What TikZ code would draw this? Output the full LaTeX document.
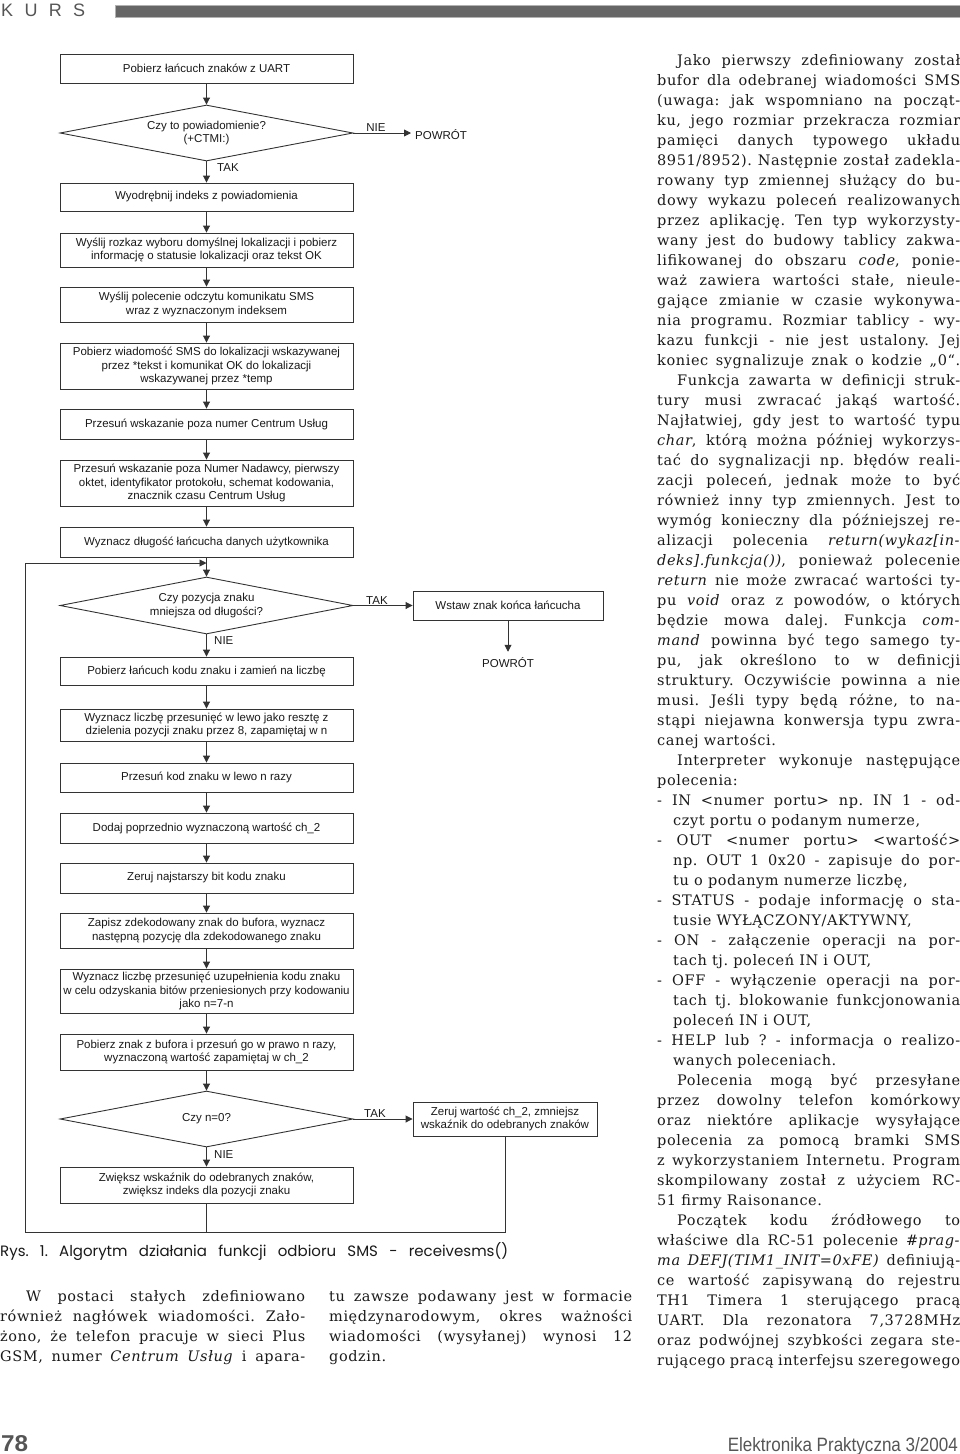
\documentclass[tikz,border=0pt]{standalone}
\usepackage{fontspec}
\usepackage{graphicx}
\setmainfont{DejaVu Serif}[LetterSpace=4]
\newfontfamily\flowfont{Liberation Sans}
\newfontfamily\capfont{Poppins}
\usetikzlibrary{shapes.geometric,arrows.meta}
\frenchspacing
\definecolor{ln}{HTML}{333333}
\definecolor{txt}{HTML}{1A1A1A}
\definecolor{hdr}{HTML}{666666}
\definecolor{hdrtxt}{HTML}{555555}
\newcommand\RJ[3]{\node[bl] (r#1) at (657,#2) {\makebox[303pt][s]{#3}};}
\newcommand\RL[3]{\node[bl] (r#1) at (657,#2) {#3};}
\newcommand\HJ[3]{\node[bl] (r#1) at (673,#2) {\makebox[287pt][s]{#3}};}
\newcommand\HL[3]{\node[bl] (r#1) at (673,#2) {#3};}
\newcommand\ind{\hspace*{20pt}}
\tikzset{
  fbox/.style={draw=ln, line width=0.9pt, minimum width=293pt, inner sep=0pt, align=center,
    font=\flowfont\fontsize{11.5}{13.5}\selectfont, text=txt},
  fdia/.style={fbox, shape=diamond, aspect=5, minimum height=56pt},
  lab/.style={font=\flowfont\fontsize{11.5}{12}\selectfont, inner sep=0pt, text=txt},
  arr/.style={-{Triangle[length=7pt,width=7pt]}, line width=0.9pt, draw=ln},
  con/.style={line width=0.9pt, draw=ln},
  bl/.style={anchor=base west, inner sep=0pt, font=\fontsize{14.5}{20}\selectfont, text=txt}
}
\begin{document}
\begin{tikzpicture}[x=1pt,y=-1pt]
\fill[white] (0,0) rectangle (960,1454);
\useasboundingbox (0,0) rectangle (960,1454);
% header
\node[anchor=base west, inner sep=0pt, text=hdrtxt, font=\flowfont\fontsize{18}{18}\selectfont] (kurs) at (1,16) {\makebox[84pt][s]{K U R S}};
\fill[hdr, draw=gray!60, line width=0.6pt] (115,5) rectangle (960,17);

% flowchart
\node[fbox, minimum height=29pt] (b1) at (206.5,68.5) {Pobierz łańcuch znaków z UART};
\node[fdia] (d1) at (206.5,133) {Czy to powiadomienie?\\(+CTMI:)};
\node[lab, anchor=west, inner xsep=4pt] (p1) at (411,134.5) {POWRÓT};
\node[lab, anchor=base] (n1) at (376,131) {NIE};
\node[lab, anchor=west] (t1) at (217,168) {TAK};
\node[fbox, minimum height=28pt] (b2) at (206.5,197) {Wyodrębnij indeks z powiadomienia};
\node[fbox, minimum height=34pt] (b3) at (206.5,250) {Wyślij rozkaz wyboru domyślnej lokalizacji i pobierz\\informację o statusie lokalizacji oraz tekst OK};
\node[fbox, minimum height=35pt] (b4) at (206.5,304.5) {Wyślij polecenie odczytu komunikatu SMS\\wraz z wyznaczonym indeksem};
\node[fbox, minimum height=46pt] (b5) at (206.5,366) {Pobierz wiadomość SMS do lokalizacji wskazywanej\\przez *tekst i komunikat OK do lokalizacji\\wskazywanej przez *temp};
\node[fbox, minimum height=30pt] (b6) at (206.5,424) {Przesuń wskazanie poza numer Centrum Usług};
\node[fbox, minimum height=46pt] (b7) at (206.5,483) {Przesuń wskazanie poza Numer Nadawcy, pierwszy\\oktet, identyfikator protokołu, schemat kodowania,\\znacznik czasu Centrum Usług};
\node[fbox, minimum height=30pt] (b8) at (206.5,542) {Wyznacz długość łańcucha danych użytkownika};
\node[fdia, minimum height=57pt] (d2) at (206.5,605.5) {Czy pozycja znaku\\mniejsza od długości?};
\node[fbox, minimum width=190pt, minimum height=29pt] (w) at (508,605.5) {Wstaw znak końca łańcucha};
\node[lab] (p2) at (508,663) {POWRÓT};
\node[lab, anchor=base] (t2) at (377,604) {TAK};
\node[lab, anchor=west] (n2) at (214,641) {NIE};
\node[fbox, minimum height=28pt] (b9) at (206.5,671) {Pobierz łańcuch kodu znaku i zamień na liczbę};
\node[fbox, minimum height=32pt] (b10) at (206.5,725) {Wyznacz liczbę przesunięć w lewo jako resztę z\\dzielenia pozycji znaku przez 8, zapamiętaj w n};
\node[fbox, minimum height=29pt] (b11) at (206.5,777.5) {Przesuń kod znaku w lewo n razy};
\node[fbox, minimum height=30pt] (b12) at (206.5,828) {Dodaj poprzednio wyznaczoną wartość ch\_2};
\node[fbox, minimum height=30pt] (b13) at (206.5,878) {Zeruj najstarszy bit kodu znaku};
\node[fbox, minimum height=35pt] (b14) at (206.5,930.5) {Zapisz zdekodowany znak do bufora, wyznacz\\następną pozycję dla zdekodowanego znaku};
\node[fbox, minimum height=44pt] (b15) at (206.5,991) {Wyznacz liczbę przesunięć uzupełnienia kodu znaku\\w celu odzyskania bitów przeniesionych przy kodowaniu\\jako n=7-n};
\node[fbox, minimum height=36pt] (b16) at (206.5,1052) {Pobierz znak z bufora i przesuń go w prawo n razy,\\wyznaczoną wartość zapamiętaj w ch\_2};
\node[fdia] (d3) at (206.5,1119) {Czy n=0?};
\node[fbox, minimum width=184pt, minimum height=34pt] (z) at (505,1119) {Zeruj wartość ch\_2, zmniejsz\\wskaźnik do odebranych znaków};
\node[lab, anchor=base] (t3) at (375,1117) {TAK};
\node[lab, anchor=west] (n3) at (214,1155) {NIE};
\node[fbox, minimum height=36pt] (b17) at (206.5,1185) {Zwiększ wskaźnik do odebranych znaków,\\zwiększ indeks dla pozycji znaku};

\coordinate (lb) at (25,1232);
\coordinate (lt) at (25,563);
\coordinate (j) at (206.5,563);

\draw[arr] (b1) -- (d1);
\draw[arr] (d1.east) -- (d1.east -| p1.west);
\draw[arr] (d1) -- (b2);
\draw[arr] (b2) -- (b3);
\draw[arr] (b3) -- (b4);
\draw[arr] (b4) -- (b5);
\draw[arr] (b5) -- (b6);
\draw[arr] (b6) -- (b7);
\draw[arr] (b7) -- (b8);
\draw[arr] (b8) -- (d2);
\draw[arr] (d2.east) -- (d2.east -| w.west);
\draw[arr, shorten >=6pt] (w.south) -- (p2.north);
\draw[arr] (d2) -- (b9);
\draw[arr] (b9) -- (b10);
\draw[arr] (b10) -- (b11);
\draw[arr] (b11) -- (b12);
\draw[arr] (b12) -- (b13);
\draw[arr] (b13) -- (b14);
\draw[arr] (b14) -- (b15);
\draw[arr] (b15) -- (b16);
\draw[arr] (b16) -- (d3);
\draw[arr] (d3.east) -- (d3.east -| z.west);
\draw[arr] (d3) -- (b17);
\draw[con] (z.south) -- (z.south |- lb) -- (lb) -- (lt);
\draw[arr] (lt) -- (j);
\draw[con] (b17.south) -- (b17.south |- lb);

% caption
\node[anchor=base west, inner sep=0pt, font=\capfont\fontsize{15}{16}\selectfont, text=txt] (cap) at (0,1256) {\makebox[508pt][s]{Rys. 1. Algorytm działania funkcji odbioru SMS - receivesms()}};

% bottom text columns
\node[bl] (a1) at (0,1301) {\makebox[305pt][s]{\hspace*{26pt}W postaci stałych zdefiniowano}};
\node[bl] (a2) at (0,1321) {\makebox[305pt][s]{również nagłówek wiadomości. Zało-}};
\node[bl] (a3) at (0,1341) {\makebox[305pt][s]{żono, że telefon pracuje w sieci Plus}};
\node[bl] (a4) at (0,1361) {\makebox[305pt][s]{GSM, numer \textit{Centrum Usług} i apara-}};
\node[bl] (c1) at (329,1301) {\makebox[303pt][s]{tu zawsze podawany jest w formacie}};
\node[bl] (c2) at (329,1321) {\makebox[303pt][s]{międzynarodowym, okres ważności}};
\node[bl] (c3) at (329,1341) {\makebox[303pt][s]{wiadomości (wysyłanej) wynosi 12}};
\node[bl] (c4) at (329,1361) {godzin.};

% right column
\RJ{1}{65}{\ind Jako pierwszy zdefiniowany został}
\RJ{2}{85}{bufor dla odebranej wiadomości SMS}
\RJ{3}{105}{(uwaga: jak wspomniano na począt-}
\RJ{4}{125}{ku, jego rozmiar przekracza rozmiar}
\RJ{5}{145}{pamięci danych typowego układu}
\RJ{6}{165}{8951/8952). Następnie został zadekla-}
\RJ{7}{185}{rowany typ zmiennej służący do bu-}
\RJ{8}{205}{dowy wykazu poleceń realizowanych}
\RJ{9}{225}{przez aplikację. Ten typ wykorzysty-}
\RJ{10}{245}{wany jest do budowy tablicy zakwa-}
\RJ{11}{265}{lifikowanej do obszaru \textit{code}, ponie-}
\RJ{12}{285}{waż zawiera wartości stałe, nieule-}
\RJ{13}{305}{gające zmianie w czasie wykonywa-}
\RJ{14}{325}{nia programu. Rozmiar tablicy - wy-}
\RJ{15}{345}{kazu funkcji - nie jest ustalony. Jej}
\RJ{16}{365}{koniec sygnalizuje znak o kodzie „0“.}
\RJ{17}{385}{\ind Funkcja zawarta w definicji struk-}
\RJ{18}{405}{tury musi zwracać jakąś wartość.}
\RJ{19}{425}{Najłatwiej, gdy jest to wartość typu}
\RJ{20}{445}{\textit{char}, którą można później wykorzys-}
\RJ{21}{465}{tać do sygnalizacji np. błędów reali-}
\RJ{22}{485}{zacji poleceń, jednak może to być}
\RJ{23}{505}{również inny typ zmiennych. Jest to}
\RJ{24}{525}{wymóg konieczny dla późniejszej re-}
\RJ{25}{545}{alizacji polecenia \textit{return(wykaz[in-}}
\RJ{26}{565}{\textit{deks].funkcja())}, ponieważ polecenie}
\RJ{27}{585}{\textit{return} nie może zwracać wartości ty-}
\RJ{28}{605}{pu \textit{void} oraz z powodów, o których}
\RJ{29}{625}{będzie mowa dalej. Funkcja \textit{com-}}
\RJ{30}{645}{\textit{mand} powinna być tego samego ty-}
\RJ{31}{665}{pu, jak określono to w definicji}
\RJ{32}{685}{struktury. Oczywiście powinna a nie}
\RJ{33}{705}{musi. Jeśli typy będą różne, to na-}
\RJ{34}{725}{stąpi niejawna konwersja typu zwra-}
\RL{35}{745}{canej wartości.}
\RJ{36}{765}{\ind Interpreter wykonuje następujące}
\RL{37}{785}{polecenia:}
\RJ{38}{805}{- IN <numer portu> np. IN 1 - od-}
\HL{39}{825}{czyt portu o podanym numerze,}
\RJ{40}{845}{- OUT <numer portu> <wartość>}
\HJ{41}{865}{np. OUT 1 0x20 - zapisuje do por-}
\HL{42}{885}{tu o podanym numerze liczbę,}
\RJ{43}{905}{- STATUS - podaje informację o sta-}
\HL{44}{925}{tusie WYŁĄCZONY/AKTYWNY,}
\RJ{45}{945}{- ON - załączenie operacji na por-}
\HL{46}{965}{tach tj. poleceń IN i OUT,}
\RJ{47}{985}{- OFF - wyłączenie operacji na por-}
\HJ{48}{1005}{tach tj. blokowanie funkcjonowania}
\HL{49}{1025}{poleceń IN i OUT,}
\RJ{50}{1045}{- HELP lub ? - informacja o realizo-}
\HL{51}{1065}{wanych poleceniach.}
\RJ{52}{1085}{\ind Polecenia mogą być przesyłane}
\RJ{53}{1105}{przez dowolny telefon komórkowy}
\RJ{54}{1125}{oraz niektóre aplikacje wysyłające}
\RJ{55}{1145}{polecenia za pomocą bramki SMS}
\RJ{56}{1165}{z wykorzystaniem Internetu. Program}
\RJ{57}{1185}{skompilowany został z użyciem RC-}
\RL{58}{1205}{51 firmy Raisonance.}
\RJ{59}{1225}{\ind Początek kodu źródłowego to}
\RJ{60}{1245}{właściwe dla RC-51 polecenie \#\textit{prag-}}
\RJ{61}{1265}{\textit{ma DEFJ(TIM1\_INIT=0xFE)} definiują-}
\RJ{62}{1285}{ce wartość zapisywaną do rejestru}
\RJ{63}{1305}{TH1 Timera 1 sterującego pracą}
\RJ{64}{1325}{UART. Dla rezonatora 7,3728MHz}
\RJ{65}{1345}{oraz podwójnej szybkości zegara ste-}
\RJ{66}{1365}{rującego pracą interfejsu szeregowego}

% footer
\node[anchor=base west, inner sep=0pt, text=hdrtxt] (pg) at (1,1451) {\resizebox{27pt}{16pt}{\flowfont\bfseries 78}};
\node[anchor=base east, inner sep=0pt, text=hdrtxt] (mag) at (958,1451) {\resizebox{230pt}{14pt}{\flowfont Elektronika Praktyczna 3/2004}};
\end{tikzpicture}
\end{document}
